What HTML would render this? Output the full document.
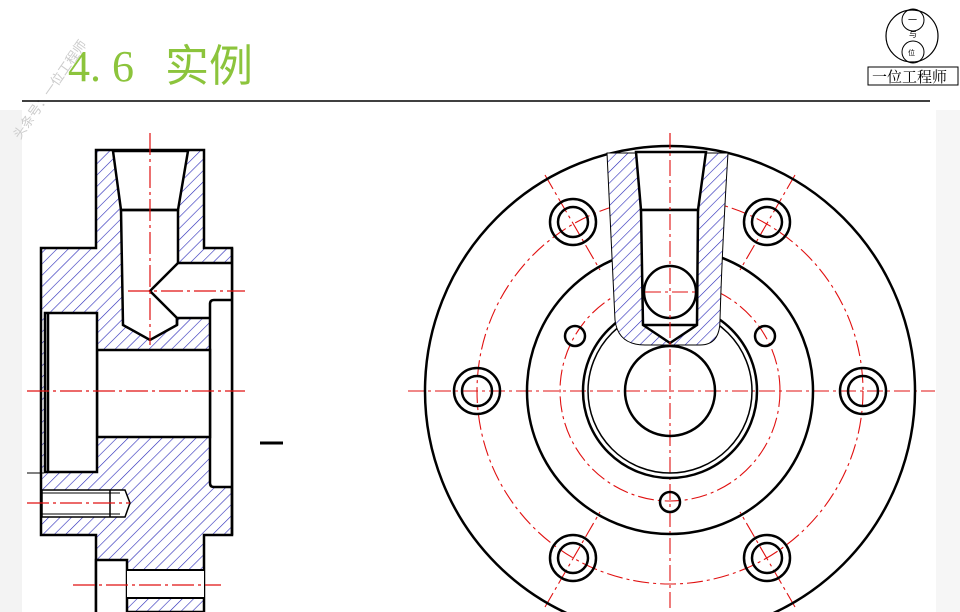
<!DOCTYPE html>
<html><head><meta charset="utf-8"><style>
html,body{margin:0;padding:0;background:#fff;}
body{width:960px;height:612px;overflow:hidden;position:relative;font-family:"Liberation Sans","Noto Sans CJK SC",sans-serif;}
.t{position:absolute;left:68px;top:30px;font-size:44px;color:#8cc43c;font-family:"Liberation Serif","Noto Sans CJK SC",serif;}
</style></head><body>
<div style="position:absolute;left:0;top:110px;width:22px;height:502px;background:#f3f3f3"></div>
<div style="position:absolute;right:0;top:110px;width:24px;height:502px;background:#f6f6f6"></div>
<div class="t">4. 6 <span style="font-family:'Noto Sans CJK SC',sans-serif;margin-left:20px">实例</span></div>
<svg width="960" height="612" style="position:absolute;left:0;top:0" xmlns="http://www.w3.org/2000/svg">
<defs>
<pattern id="h" width="8" height="8" patternUnits="userSpaceOnUse" patternTransform="rotate(45)">
<line x1="0" y1="0" x2="0" y2="8" stroke="#2828b8" stroke-width="1.2"/>
</pattern>
<g id="b" fill="none" stroke="#000" stroke-width="2.5"><circle r="23"/><circle r="15"/></g>
</defs>
<text x="20" y="140" font-size="13" fill="#ccc" transform="rotate(-55 20 140)" font-family="Noto Sans CJK SC,sans-serif">头条号：一位工程师</text>
<line x1="22" y1="101" x2="930" y2="101" stroke="#000" stroke-width="1.5"/>
<circle cx="912" cy="36" r="26" fill="none" stroke="#000" stroke-width="1.2"/>
<circle cx="913" cy="20" r="11" fill="none" stroke="#000"/>
<circle cx="913" cy="52" r="11" fill="none" stroke="#000"/>
<text x="908" y="23" font-size="9">一</text><text x="909" y="37" font-size="8">与</text><text x="908" y="55" font-size="7">位</text>
<rect x="868" y="67" width="90" height="18" fill="#fff" stroke="#000"/>
<text x="872" y="82" font-size="15" font-family="Noto Serif CJK SC,serif">一位工程师</text>

<g stroke="#000" stroke-width="2.5" stroke-linejoin="miter">
<path d="M96,150 H204 V248 H232 V535 H204 V612 H96 V535 H41 V248 H96 Z" fill="url(#h)"/>
<polygon points="113,151 188,151 178,210 177,263 232,263 232,487 214,487 210,483 210,318 177,318 177,325 150,340 123,325 121,210" fill="#fff" stroke="none"/>
<polygon points="113,151 188,151 178,210 121,210" fill="#fff"/>
<polyline points="121,210 123,325 150,340 177,325 177,318" fill="none"/>
<polyline points="178,210 178,263 232,263" fill="none"/>
<polyline points="177,325 177,318 210,318" fill="none"/>
<polyline points="178,263 150,291 177,318" fill="none"/>
<line x1="121" y1="210" x2="178" y2="210"/>
<path d="M232,300 H214 Q210,300 210,304 V483 Q210,487 214,487 H232" fill="#fff"/>
<line x1="232" y1="248" x2="232" y2="535"/>
<rect x="97" y="350" width="113" height="87" fill="#fff"/>
<polygon points="45,313 97,313 97,472 45,472" fill="#fff"/>
<line x1="48" y1="313" x2="48" y2="472"/>
<polygon points="42,490 125,490 130,503 125,517 42,517" fill="#fff" stroke-width="1.5"/>
<line x1="42" y1="493" x2="120" y2="493" stroke-width="1"/>
<line x1="42" y1="514" x2="120" y2="514" stroke-width="1"/>
<line x1="110" y1="490" x2="110" y2="517" stroke-width="1.5"/>
<rect x="96" y="560" width="31" height="55" fill="#fff"/>
<line x1="127" y1="570" x2="204" y2="570" stroke-width="2"/>
<rect x="127" y="571" width="77" height="28" fill="#fff" stroke="none"/>
<line x1="127" y1="598" x2="204" y2="598" stroke-width="2"/>
</g>
<line x1="27" y1="473" x2="44" y2="473" stroke="#000" stroke-width="1"/>
<line x1="260" y1="443" x2="283" y2="443" stroke="#000" stroke-width="3"/>
<g stroke="#e01010" stroke-width="1.2" stroke-dasharray="22,4,3,4" fill="none">
<line x1="150" y1="133" x2="150" y2="345"/>
<line x1="128" y1="291" x2="245" y2="291"/>
<line x1="27" y1="391" x2="245" y2="391"/>
<line x1="27" y1="503" x2="130" y2="503"/>
<line x1="73" y1="585" x2="221" y2="585"/>
</g>

<g fill="none" stroke="#e01010" stroke-width="1.1" stroke-dasharray="16,4,3,4">
<circle cx="670" cy="391" r="193"/>
<circle cx="670" cy="391" r="110"/>
<line x1="408" y1="391" x2="935" y2="391"/>
<line x1="670" y1="133" x2="670" y2="612"/>
<line x1="545" y1="175" x2="600" y2="270"/>
<line x1="795" y1="175" x2="740" y2="270"/>
<line x1="545" y1="607" x2="600" y2="512"/>
<line x1="795" y1="607" x2="740" y2="512"/>
</g>
<g fill="none" stroke="#000" stroke-width="2.5">
<circle cx="670" cy="391" r="245"/>
<circle cx="670" cy="391" r="143"/>
<circle cx="670" cy="391" r="87"/>
<circle cx="670" cy="391" r="82" stroke-width="1.5"/>
<circle cx="670" cy="391" r="45"/>
<circle cx="575" cy="336" r="10"/><circle cx="765" cy="336" r="10"/><circle cx="670" cy="502" r="10"/>
</g>
<use href="#b" x="477" y="391"/><use href="#b" x="863" y="391"/>
<use href="#b" x="573" y="222"/><use href="#b" x="767" y="222"/>
<use href="#b" x="573" y="558"/><use href="#b" x="767" y="558"/>
<path d="M607,153 Q612,250 615,320 Q618,345 645,345 H700 Q720,345 720,320 Q722,250 728,153 Z" fill="#fff" stroke="none"/>
<path d="M607,153 Q612,250 615,320 Q618,345 645,345 H700 Q720,345 720,320 Q722,250 728,153 Z" fill="url(#h)" stroke="#000" stroke-width="1"/>
<g stroke="#000" stroke-width="2.5">
<polygon points="636,152 706,152 698,210 641,210" fill="#fff"/>
<polygon points="641,210 698,210 697,325 670,343 643,325" fill="#fff"/>
<line x1="643" y1="325" x2="697" y2="325"/>
<circle cx="670" cy="292" r="26" fill="#fff"/>
</g>
<g stroke="#e01010" stroke-width="1.1" stroke-dasharray="16,4,3,4">
<line x1="670" y1="133" x2="670" y2="345"/>
<line x1="645" y1="292" x2="698" y2="292"/>
</g>
</svg>
</body></html>
